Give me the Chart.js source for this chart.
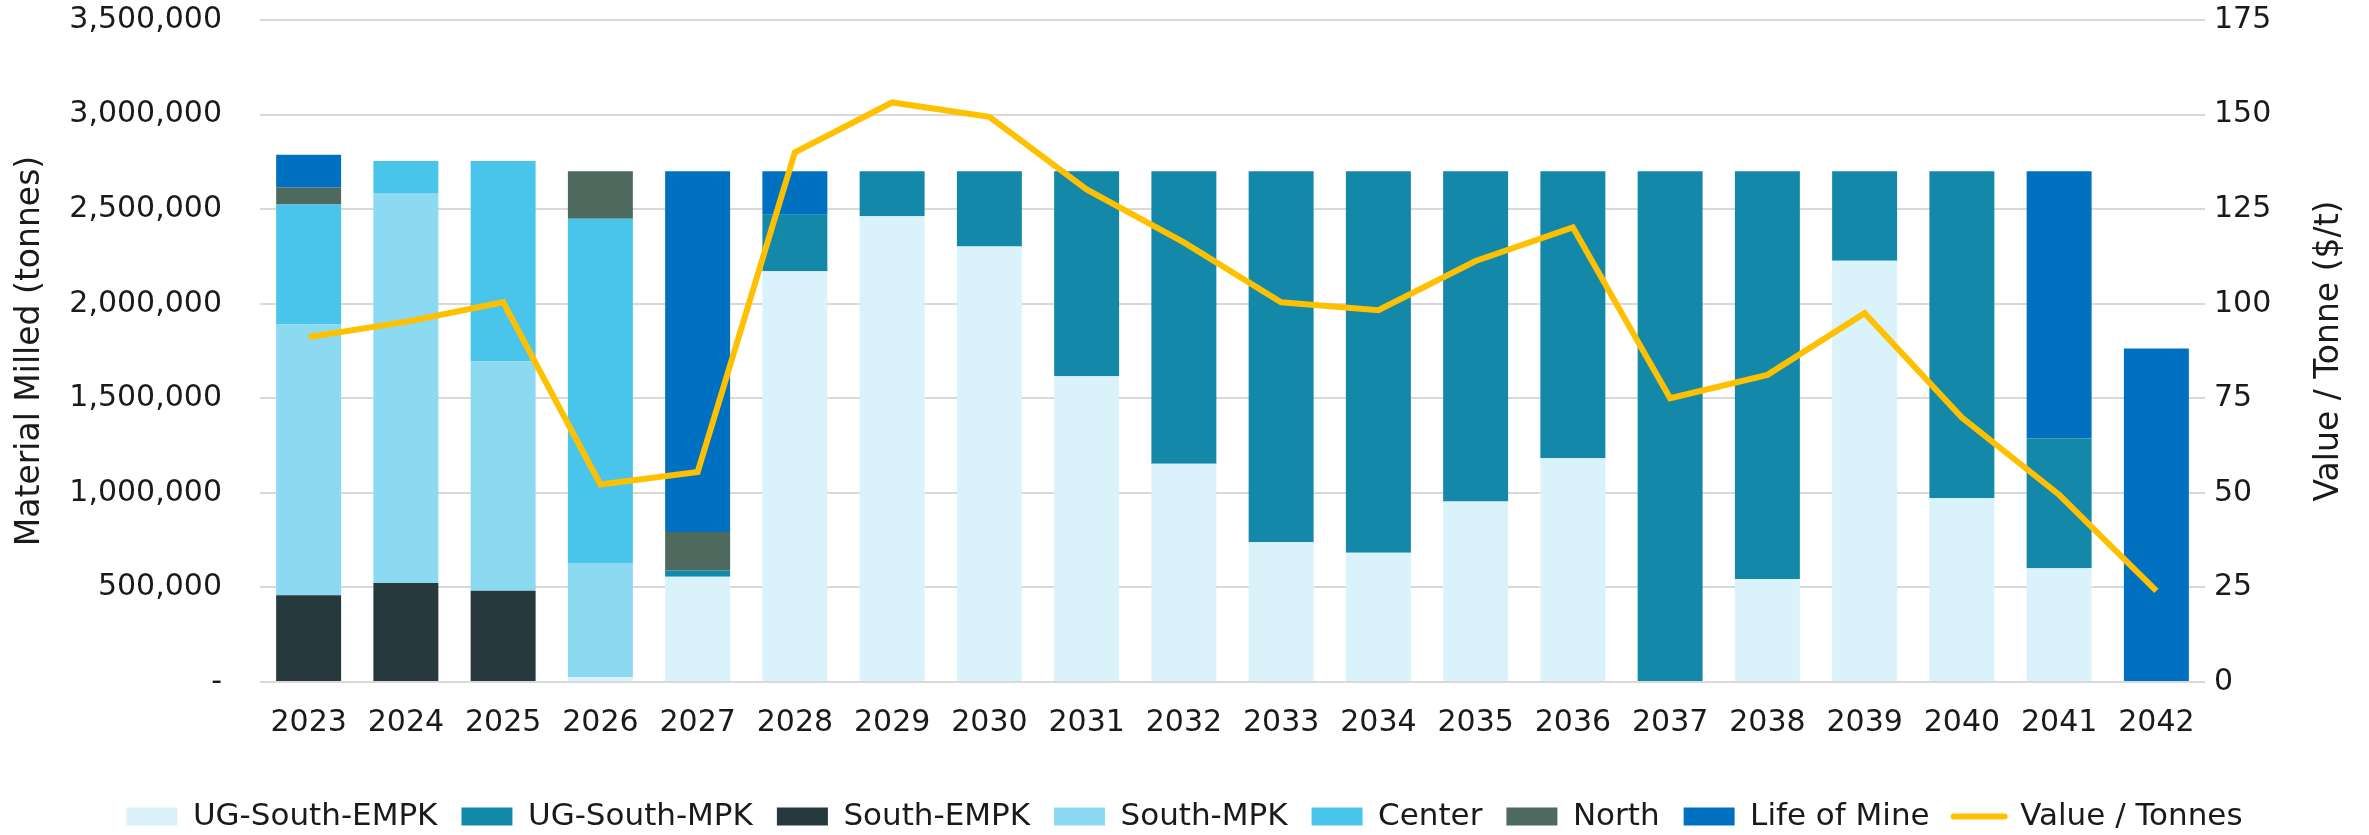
<!DOCTYPE html>
<html>
<head>
<meta charset="utf-8">
<script src="https://cdn.jsdelivr.net/npm/chart.js@4.4.1/dist/chart.umd.min.js"></script>
<style>
  html, body { margin: 0; padding: 0; background: #fff; }
  #wrap { width: 2369px; height: 835px; position: relative; }
</style>
</head>
<body>
<div id="wrap"><canvas id="chart"></canvas></div>
<script>
const years = ["2023", "2024", "2025", "2026", "2027", "2028", "2029", "2030", "2031", "2032",
  "2033", "2034", "2035", "2036", "2037", "2038", "2039", "2040", "2041", "2042"];

const ugSouthEmpk = [0, 0, 0, 27000, 556000, 2171000, 2463000, 2302000, 1617000, 1154000,
  739000, 683000, 954000, 1183000, 0, 544000, 2227000, 971000, 602000, 0];
const ugSouthMpk = [0, 0, 0, 0, 34000, 300000, 237000, 398000, 1083000, 1546000,
  1961000, 2017000, 1746000, 1517000, 2700000, 2156000, 473000, 1729000, 686000, 0];
const southEmpk = [458000, 524000, 483000, 0, 0, 0, 0, 0, 0, 0, 0, 0, 0, 0, 0, 0, 0, 0, 0, 0];
const southMpk = [1432000, 2061000, 1212000, 602000, 0, 0, 0, 0, 0, 0, 0, 0, 0, 0, 0, 0, 0, 0, 0, 0];
const center = [634000, 170000, 1060000, 1820000, 0, 0, 0, 0, 0, 0, 0, 0, 0, 0, 0, 0, 0, 0, 0, 0];
const north = [91000, 0, 0, 251000, 203000, 0, 0, 0, 0, 0, 0, 0, 0, 0, 0, 0, 0, 0, 0, 0];
const lifeOfMine = [173000, 0, 0, 0, 1907000, 229000, 0, 0, 0, 0, 0, 0, 0, 0, 0, 0, 0, 0, 1412000, 1763000];

const valuePerTonne = [91.2, 95.2, 100.4, 52.2, 55.5, 140, 153.2, 149.4, 130.2, 116.2,
  100.4, 98.3, 111.3, 120.2, 75, 81.2, 97.5, 69.9, 49.5, 24.1];

const leftTitle = "Material Milled (tonnes)";
const rightTitle = "Value / Tonne ($/t)";

const FONT = "'DejaVu Sans', sans-serif";
const TEXT = "#1a1a1a";
const GRID = "#d9d9d9";

function bar(label, data, color) {
  return { type: "bar", label, data, backgroundColor: color, borderWidth: 0, stack: "s", yAxisID: "y", order: 1 };
}

// right-hand title reads bottom-to-top like the left one
const rightTitlePlugin = {
  id: "rightTitle",
  afterDraw(chart) {
    const { ctx, chartArea } = chart;
    ctx.save();
    ctx.translate(chart.scales.y1.right - 40, (chartArea.top + chartArea.bottom) / 2);
    ctx.rotate(-Math.PI / 2);
    ctx.font = "33px " + FONT;
    ctx.fillStyle = TEXT;
    ctx.textAlign = "center";
    ctx.textBaseline = "middle";
    ctx.fillText(rightTitle, 0, 0);
    ctx.restore();
  },
};

new Chart(document.getElementById("chart"), {
  data: {
    labels: years,
    datasets: [
      bar("UG-South-EMPK", ugSouthEmpk, "#daf2f9"),
      bar("UG-South-MPK", ugSouthMpk, "#1388a8"),
      bar("South-EMPK", southEmpk, "#263a3e"),
      bar("South-MPK", southMpk, "#8bdaf2"),
      bar("Center", center, "#49c5ec"),
      bar("North", north, "#4e695d"),
      bar("Life of Mine", lifeOfMine, "#0071c1"),
      {
        type: "line",
        label: "Value / Tonnes",
        data: valuePerTonne,
        borderColor: "#ffc000",
        backgroundColor: "#ffc000",
        borderWidth: 6,
        pointRadius: 0,
        tension: 0,
        yAxisID: "y1",
        order: 0,
      },
    ],
  },
  options: {
    responsive: true,
    maintainAspectRatio: false,
    animation: false,
    layout: { padding: { top: 20, left: 0, right: 0, bottom: -7 } },
    datasets: { bar: { barPercentage: 0.668, categoryPercentage: 1 } },
    plugins: {
      tooltip: { enabled: false },
      legend: {
        position: "bottom",
        labels: {
          font: { family: FONT, size: 31 },
          color: TEXT,
          padding: 24,
          boxHeight: 18,
          usePointStyle: true,
          pointStyleWidth: 51,
          sort: (a, b) => a.datasetIndex - b.datasetIndex,
          generateLabels(chart) {
            const items = Chart.defaults.plugins.legend.labels.generateLabels(chart);
            items.forEach((it) => {
              const ds = chart.data.datasets[it.datasetIndex];
              if (ds.type === "line") {
                it.pointStyle = "line";
                it.lineWidth = 6;
                it.lineCap = "round";
                it.strokeStyle = "#ffc000";
              } else {
                it.pointStyle = "rect";
                it.lineWidth = 0;
              }
            });
            return items;
          },
        },
      },
    },
    scales: {
      x: {
        stacked: true,
        grid: { display: false, drawTicks: false },
        border: { display: false },
        ticks: { font: { family: FONT, size: 30 }, color: TEXT, padding: 23, maxRotation: 0, autoSkip: false },
        afterFit(scale) { scale.height = 95; },
      },
      y: {
        stacked: true,
        position: "left",
        min: 0,
        max: 3500000,
        grid: { color: GRID, lineWidth: 2, drawTicks: true, tickLength: 38, tickColor: "rgba(0,0,0,0)" },
        border: { display: false },
        ticks: {
          stepSize: 500000,
          padding: 0,
          font: { family: FONT, size: 30 },
          color: TEXT,
          callback: (v) => (v === 0 ? "-" : v.toLocaleString("en-US")),
        },
        title: {
          display: true,
          text: leftTitle,
          font: { family: FONT, size: 33 },
          color: TEXT,
          padding: { top: 11, bottom: 0 },
        },
        afterFit(scale) { scale.width = 260; },
      },
      y1: {
        position: "right",
        min: 0,
        max: 175,
        grid: { drawOnChartArea: false, drawTicks: true, tickLength: 9, tickColor: "rgba(0,0,0,0)" },
        border: { display: false },
        ticks: { stepSize: 25, padding: 0, font: { family: FONT, size: 30 }, color: TEXT },
        afterFit(scale) { scale.width = 164; },
      },
    },
  },
  plugins: [rightTitlePlugin],
});
</script>
</body>
</html>
